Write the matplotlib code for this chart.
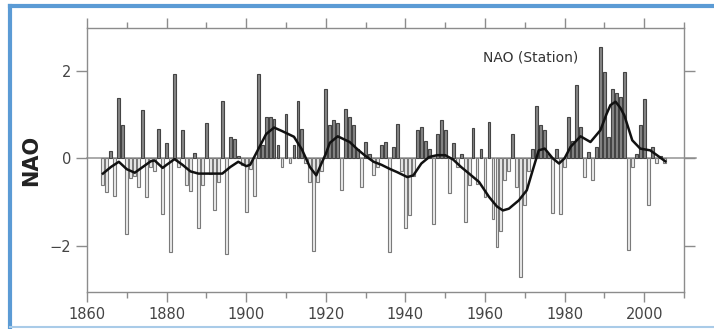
import numpy as np
import matplotlib
matplotlib.use("Agg")
import matplotlib.pyplot as plt
from matplotlib.lines import Line2D
from matplotlib.ticker import MultipleLocator

# --- winter NAO index (station based) ---
years = list(range(1864, 2006))
nao = [
    -0.60, -0.78, 0.17, -0.85, 1.37, 0.75,                                  # 1864-1869
    -1.72, -0.45, -0.40, -0.65, 1.11, -0.88, -0.20, -0.30, 0.66, -1.28,     # 1870s
    0.34, -2.14, 1.92, -0.20, 0.64, -0.60, -0.75, 0.12, -1.58, -0.60,       # 1880s
    0.80, -0.35, -1.19, -0.55, 1.30, -2.19, 0.49, 0.45, 0.05, -0.15,        # 1890s
    -1.23, -0.25, -0.85, 1.92, 0.30, 0.93, 0.95, 0.90, 0.30, -0.20,         # 1900s
    1.00, -0.10, 0.30, 1.30, 0.66, -0.10, -0.55, -2.12, -0.55, -0.30,       # 1910s
    1.58, 0.75, 0.87, 0.80, -0.73, 1.13, 0.95, 0.75, 0.20, -0.65,           # 1920s
    0.37, 0.10, -0.39, -0.20, 0.30, 0.37, -2.14, 0.26, 0.79, -0.30,         # 1930s
    -1.60, -1.30, -0.40, 0.64, 0.72, 0.40, 0.20, -1.50, 0.56, 0.87,         # 1940s
    0.64, -0.80, 0.34, -0.20, 0.10, -1.45, -0.60, 0.68, -0.58, 0.20,        # 1950s
    -0.88, 0.83, -1.38, -2.03, -1.65, -0.50, -0.30, 0.56, -0.65, -2.71,     # 1960s
    -1.07, -0.30, 0.20, 1.19, 0.75, 0.64, 0.10, -1.25, 0.20, -1.27,         # 1970s
    -0.20, 0.95, 0.40, 1.67, 0.72, -0.43, 0.15, -0.50, 0.26, 2.54,          # 1980s
    1.97, 0.49, 1.59, 1.48, 1.40, 1.97, -2.10, -0.20, 0.10, 0.75,           # 1990s
    1.36, -1.07, 0.26, -0.10, 0.05, -0.10,                                  # 2000-2005
]

# smoothed curve
smooth_years = [1864, 1866, 1868, 1870, 1872, 1874, 1876, 1877, 1879, 1880,
                1882, 1884, 1886, 1888, 1890, 1894, 1896, 1898, 1900, 1901,
                1903, 1905, 1907, 1909, 1912, 1914, 1916, 1917.6, 1919, 1920,
                1921, 1923, 1926, 1928, 1930, 1932, 1934, 1936, 1938, 1940.5,
                1942, 1944, 1946, 1948, 1950, 1952, 1954, 1956, 1958.5, 1961,
                1963, 1964.5, 1966, 1968.5, 1970.5, 1972, 1973.5, 1975, 1977, 1978.6,
                1980, 1981.5, 1984, 1986.5, 1989, 1990.5, 1991.5, 1992.8, 1994, 1995,
                1997, 1999, 2001.5, 2003.2, 2005.3]
smooth_vals = [-0.35, -0.20, -0.08, -0.25, -0.33, -0.20, -0.07, -0.05, -0.22, -0.15,
               -0.02, -0.15, -0.30, -0.35, -0.35, -0.35, -0.20, -0.08, -0.18, -0.15,
               0.20, 0.55, 0.70, 0.62, 0.49, 0.20, -0.20, -0.39, -0.10, 0.10,
               0.35, 0.50, 0.37, 0.20, 0.05, -0.08, -0.15, -0.24, -0.32, -0.43,
               -0.39, -0.12, 0.03, 0.07, 0.07, -0.03, -0.20, -0.35, -0.54, -0.88,
               -1.10, -1.19, -1.15, -0.96, -0.73, -0.27, 0.18, 0.22, 0.00, -0.12,
               0.00, 0.26, 0.50, 0.37, 0.64, 1.00, 1.21, 1.29, 1.15, 0.98,
               0.41, 0.22, 0.18, 0.07, -0.07]

label_text = "NAO (Station)"

W, H = 714, 329
fig = plt.figure(figsize=(W / 100, H / 100), dpi=100)
fig.patch.set_facecolor("white")
ax = fig.add_axes([87 / W, 1 - 292 / H, (684 - 87) / W, (292 - 28) / H])

nao_arr = np.array(nao)
pos = nao_arr >= 0
fill = np.where(pos, "#858585", "#ebebeb")
edge = np.where(pos, "#444444", "#7a7a7a")
ax.bar(years, nao, width=0.72, color=fill, edgecolor=edge, linewidth=0.8, zorder=2)

ax.axhline(0, color="#939393", lw=1.1, zorder=1, xmax=1.02, clip_on=False)
ax.plot(smooth_years, smooth_vals, color="#111111", lw=1.8, zorder=3)

ax.set_xlim(1860, 2010)
ax.set_ylim(-3.05, 2.97)
ax.xaxis.set_major_locator(MultipleLocator(20))
ax.xaxis.set_minor_locator(MultipleLocator(10))
ax.set_yticks([-2, 0, 2])

for s in ax.spines.values():
    s.set_color("#8c8c8c")
    s.set_linewidth(1.0)

ax.tick_params(which="both", direction="out", top=True, right=True,
               labeltop=False, labelright=False, color="#8c8c8c",
               labelcolor="#444444", labelsize=10.5)
ax.tick_params(axis="x", which="major", length=7, width=1.0)
ax.tick_params(axis="x", which="minor", length=4, width=1.0)
ax.tick_params(axis="y", which="major", length=8, width=1.0)

ax.set_ylabel("NAO", fontsize=15, fontweight="bold", color="#222222", labelpad=6)
ax.text(1971.5, 2.3, label_text, fontsize=10, color="#333333",
        ha="center", va="center")

# blue frame around the picture
fig.add_artist(Line2D([10 / W, 10 / W], [1 - 6 / H, 1 - 327 / H],
                      transform=fig.transFigure, color="#5b9bd5", lw=3))
fig.add_artist(Line2D([10 / W, 1.0], [1 - 6 / H, 1 - 6 / H],
                      transform=fig.transFigure, color="#5b9bd5", lw=3))
fig.add_artist(Line2D([10 / W, 1.0], [1 - 327 / H, 1 - 327 / H],
                      transform=fig.transFigure, color="#a9cbe8", lw=1.5))

fig.savefig("out.png", dpi=100, facecolor="white")
